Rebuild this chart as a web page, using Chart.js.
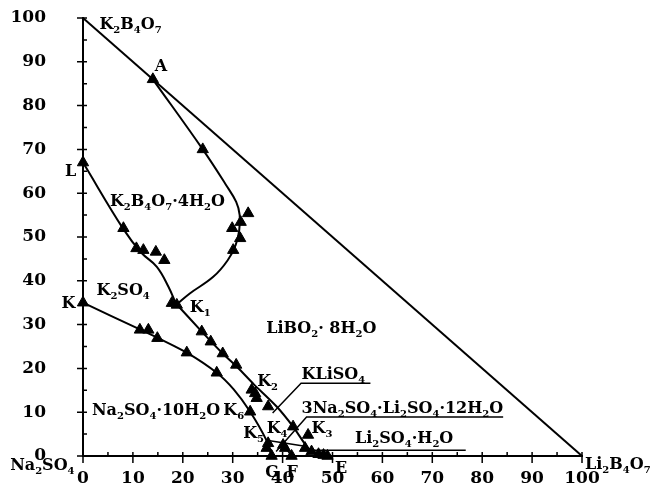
<!DOCTYPE html>
<html>
<head>
<meta charset="utf-8">
<script src="https://cdn.jsdelivr.net/npm/chart.js@4/dist/chart.umd.min.js"></script>
<style>
  html, body { margin: 0; padding: 0; background: #fff; }
  canvas { display: block; }
</style>
</head>
<body>
<canvas id="phase" width="653" height="495"></canvas>
<script>
// phase boundaries, [x, y] in mass %
const edgeLine = [[0, 100], [100, 0]];
const curveAK1 = [[14, 86], [24, 70], [28.6, 62], [30.7, 58], [31.4, 55], [31.3, 51.5], [30.6, 48.2], [29, 44.7], [26.1, 40.9], [21.4, 37.1], [18.8, 34.6]];
const curveLK1 = [[0, 67], [8.1, 51.8], [11.7, 46.4], [14.8, 43.2], [17.1, 38.7], [18.6, 34.8]];
const lineK1E = [[18.8, 34.6], [23.8, 28.4], [28, 23.4], [31, 20.2], [34.2, 16.4], [38.8, 11.3], [42.1, 6.7], [45.5, 1.2], [47.5, 0.3], [49, 0]];
const lineKG = [[0, 35], [11.4, 28.9], [14.9, 27], [20.8, 23.6], [26.8, 19], [30.2, 15.2], [33.5, 10.1], [36.8, 3.5], [37.8, 0]];
const lineK5 = [[36.8, 3.6], [44.5, 2.2]];
const lineK4F = [[40.1, 2.6], [41.8, 0]];
const leadKLi = [[38, 9.8], [43.7, 16.6], [57.6, 16.6]];
const leadNaLi = [[38.7, 1.0], [44.8, 8.9], [84.2, 8.9]];
const leadLiH = [[43.5, 1.3], [76.7, 1.3]];

// experimental points
const triPoints = [
  [14, 86], [24, 70], [33.1, 55.4], [31.6, 53.4], [29.9, 52], [31.5, 49.7], [30.1, 47],
  [17.8, 34.9], [18.8, 34.5], [0, 67], [8.1, 52], [10.7, 47.4], [12.1, 47], [14.6, 46.6], [16.3, 44.7],
  [0, 35], [11.4, 28.8], [13.1, 28.8], [14.9, 26.9], [20.8, 23.6], [26.8, 19],
  [23.8, 28.4], [25.6, 26.1], [28, 23.4], [30.7, 20.8], [33.8, 15.1], [34.5, 14.3], [34.8, 13.2],
  [37.1, 11.3], [33.5, 10.1], [42.1, 6.7], [45.1, 4.8], [37.1, 2.9], [36.8, 1.8], [37.8, 0],
  [40.1, 2.5], [40.5, 1.8], [41.8, 0], [44.5, 1.8], [45.8, 1], [47.2, 0.4], [48.2, 0.2], [49, 0]
];

const xTicks = [0, 10, 20, 30, 40, 50, 60, 70, 80, 90, 100];
const yTicks = [0, 10, 20, 30, 40, 50, 60, 70, 80, 90, 100];

// text labels: '_' makes the next character a subscript
const notes = [
  { t: 'K_2B_4O_7', x: 3.3, y: 97.4 },
  { t: 'A', x: 14.4, y: 88 },
  { t: 'L', x: -3.6, y: 63.9 },
  { t: 'K_2B_4O_7·4H_2O', x: 5.4, y: 57.1 },
  { t: 'K_2SO_4', x: 2.7, y: 36.8 },
  { t: 'K', x: -4.3, y: 33.8 },
  { t: 'K_1', x: 21.4, y: 32.9 },
  { t: 'LiBO_2· 8H_2O', x: 36.7, y: 28.1 },
  { t: 'K_2', x: 34.9, y: 16 },
  { t: 'KLiSO_4', x: 43.8, y: 17.6 },
  { t: 'Na_2SO_4·10H_2O', x: 1.8, y: 9.4 },
  { t: 'K_6', x: 28.1, y: 9.4 },
  { t: '3Na_2SO_4·Li_2SO_4·12H_2O', x: 43.8, y: 9.8 },
  { t: 'K_5', x: 32.1, y: 4.1 },
  { t: 'K_4', x: 36.8, y: 5.3 },
  { t: 'K_3', x: 45.8, y: 5.3 },
  { t: 'Li_2SO_4·H_2O', x: 54.5, y: 3.0 },
  { t: 'G', x: 36.5, y: -4.8 },
  { t: 'F', x: 40.8, y: -4.8 },
  { t: 'E', x: 50.5, y: -3.9 },
  { t: 'Na_2SO_4', x: -14.6, y: -3.2 },
  { t: 'Li_2B_4O_7', x: 100.6, y: -3.0 }
];

const FACE = '"DejaVu Serif", "Liberation Serif", serif';
const toXY = arr => arr.map(p => ({ x: p[0], y: p[1] }));

function lineSet(arr, width, tension) {
  return {
    data: toXY(arr), showLine: true, borderColor: '#000', borderWidth: width,
    pointRadius: 0, tension: tension, fill: false, clip: false
  };
}

function drawChem(ctx, str, x, y) {
  let cx = x;
  let i = 0;
  while (i < str.length) {
    let sub = false, run = '';
    if (str[i] === '_') { sub = true; run = str[i + 1]; i += 2; }
    else { while (i < str.length && str[i] !== '_') { run += str[i]; i++; } }
    ctx.font = sub ? 'bold 10px ' + FACE : 'bold 16px ' + FACE;
    ctx.fillText(run, cx, sub ? y + 4 : y);
    cx += ctx.measureText(run).width;
  }
}

const extras = {
  id: 'extras',
  afterDraw(chart) {
    const ctx = chart.ctx, xs = chart.scales.x, ys = chart.scales.y;
    const x0 = xs.getPixelForValue(0), y0 = ys.getPixelForValue(0);
    ctx.save();
    ctx.strokeStyle = '#000';
    ctx.lineWidth = 1.5;
    ctx.beginPath();
    for (let v = 0; v <= 100; v += 5) {
      const px = xs.getPixelForValue(v);
      const py = ys.getPixelForValue(v);
      if (v % 10 === 0) {
        ctx.moveTo(px, y0 - 4); ctx.lineTo(px, y0 + 7);
        ctx.moveTo(x0 - 6, py); ctx.lineTo(x0 + 4, py);
      } else {
        ctx.moveTo(px, y0 - 4); ctx.lineTo(px, y0);
        ctx.moveTo(x0, py); ctx.lineTo(x0 + 4, py);
      }
    }
    ctx.stroke();
    ctx.fillStyle = '#000';
    ctx.textBaseline = 'alphabetic';
    ctx.textAlign = 'left';
    notes.forEach(n => drawChem(ctx, n.t, xs.getPixelForValue(n.x), ys.getPixelForValue(n.y)));
    ctx.restore();
  }
};

const tickFont = { family: FACE, size: 17, weight: 'bold' };

function noPad(s) {
  s.paddingTop = 0; s.paddingBottom = 0; s.paddingLeft = 0; s.paddingRight = 0;
}

new Chart(document.getElementById('phase'), {
  type: 'scatter',
  data: {
    datasets: [
      {
        data: toXY(triPoints), pointStyle: 'triangle', pointRadius: 6.5,
        backgroundColor: '#000', borderColor: '#000', borderWidth: 1, clip: false
      },
      lineSet(edgeLine, 2, 0),
      lineSet(curveAK1, 2, 0.4),
      lineSet(curveLK1, 2, 0.4),
      lineSet(lineK1E, 2, 0.2),
      lineSet(lineKG, 2, 0.2),
      lineSet(lineK5, 1.5, 0),
      lineSet(lineK4F, 1.5, 0),
      lineSet(leadKLi, 1.5, 0),
      lineSet(leadNaLi, 1.5, 0),
      lineSet(leadLiH, 1.5, 0)
    ]
  },
  options: {
    responsive: false,
    animation: false,
    layout: { padding: { top: 18, right: 71, left: 0, bottom: 0 } },
    plugins: { legend: { display: false }, tooltip: { enabled: false } },
    scales: {
      x: {
        type: 'linear', min: 0, max: 100,
        afterBuildTicks: s => { s.ticks = xTicks.map(v => ({ value: v })); },
        ticks: { font: tickFont, color: '#000', padding: 12, maxRotation: 0 },
        grid: { display: false, drawTicks: false },
        border: { display: true, color: '#000', width: 2 },
        afterFit: s => { s.height = 39; noPad(s); }
      },
      y: {
        type: 'linear', min: 0, max: 100,
        afterBuildTicks: s => { s.ticks = yTicks.map(v => ({ value: v })); },
        ticks: { font: tickFont, color: '#000', padding: 37 },
        grid: { display: false, drawTicks: false },
        border: { display: true, color: '#000', width: 2 },
        afterFit: s => { s.width = 83; noPad(s); }
      }
    }
  },
  plugins: [extras]
});
</script>
</body>
</html>
